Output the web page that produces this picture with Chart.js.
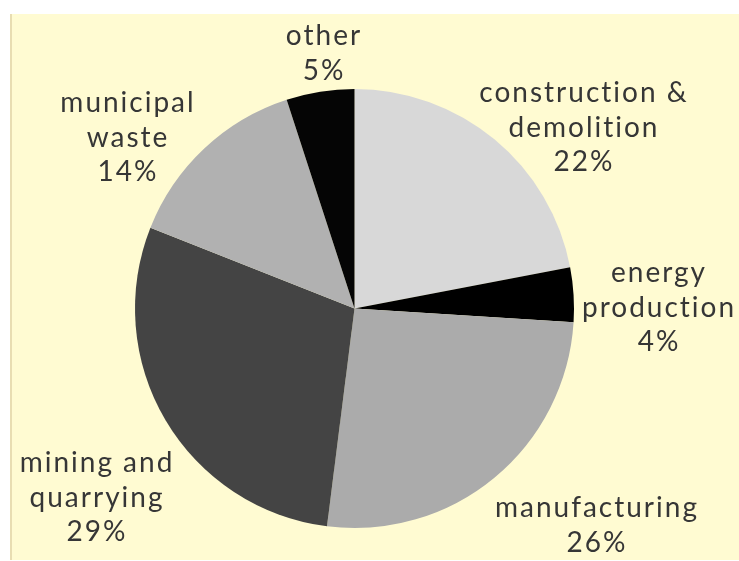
<!DOCTYPE html>
<html>
<head>
<meta charset="utf-8">
<script src="https://cdn.jsdelivr.net/npm/chart.js@4.4.1/dist/chart.umd.min.js"></script>
<style>
  html, body { margin: 0; padding: 0; background: #fff; }
  #grafico { display: block; }
</style>
</head>
<body>
<canvas id="grafico" width="739" height="561"></canvas>
<script>
// datos del grafico (porcentajes, empezando arriba y en sentido horario)
const categorias = ['construction & demolition', 'energy production', 'manufacturing',
                    'mining and quarrying', 'municipal waste', 'other'];
const porcentajes = [22, 4, 26, 29, 14, 5];
const colores = ['#d8d8d8', '#000000', '#ababab', '#444444', '#b1b1b1', '#050505'];

// texto de cada etiqueta, linea por linea
const lineasEtiqueta = [
    ['construction &', 'demolition'],
    ['energy', 'production'],
    ['manufacturing'],
    ['mining and', 'quarrying'],
    ['municipal', 'waste'],
    ['other']
];

// donde va cada etiqueta (centro x, y de la primera linea)
const posEtiquetas = [
    [583, 93], [658, 273], [596, 508], [96, 463], [127, 103], [323, 36]
];

const fondo = {
    id: 'fondo',
    beforeDraw(chart) {
        const c = chart.ctx;
        c.save();
        c.fillStyle = '#ffffff';
        c.fillRect(0, 0, chart.width, chart.height);
        c.fillStyle = '#e8ddb2';
        c.fillRect(10, 14, 2, 546);
        c.fillStyle = '#fffbd2';
        c.fillRect(12, 14, chart.width - 12, 546);
        c.restore();
    }
};

const etiquetas = {
    id: 'etiquetas',
    afterDraw(chart) {
        const c = chart.ctx;
        c.save();
        c.fillStyle = '#363636';
        c.font = '28px Lato, "Open Sans", sans-serif';
        c.letterSpacing = '2px';
        c.textAlign = 'center';
        c.textBaseline = 'middle';
        const alto = 34.5;
        lineasEtiqueta.forEach((lineas, i) => {
            const [x, y] = posEtiquetas[i];
            const todas = lineas.concat([porcentajes[i] + '%']);
            todas.forEach((t, j) => c.fillText(t, x + 1, y + j * alto));
        });
        c.restore();
    }
};

const ctx = document.getElementById('grafico').getContext('2d');
new Chart(ctx, {
    type: 'pie',
    data: {
        labels: categorias,
        datasets: [{
            data: porcentajes,
            backgroundColor: colores,
            borderWidth: 0
        }]
    },
    options: {
        responsive: false,
        animation: false,
        layout: { padding: { top: 89, bottom: 33, left: 135, right: 165 } },
        plugins: {
            legend: { display: false },
            tooltip: { enabled: false }
        }
    },
    plugins: [fondo, etiquetas]
});
</script>
</body>
</html>
